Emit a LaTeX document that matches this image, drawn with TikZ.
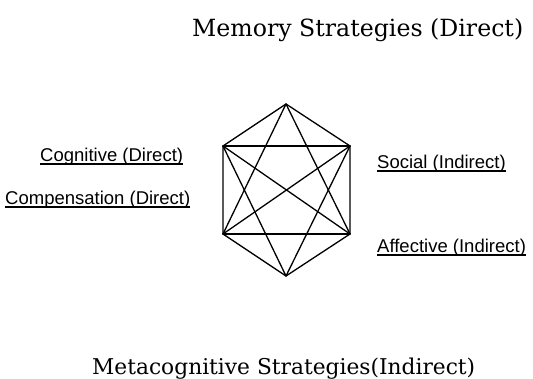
\documentclass[tikz,border=0pt]{standalone}
\usepackage{fontspec}
\setmainfont{Liberation Sans}
\newfontfamily\titlefont{DejaVu Serif}
\newfontfamily\labelfont{Liberation Sans}
\begin{document}
\begin{tikzpicture}[x=1pt,y=-1pt,
  edge/.style={line width=1.3pt,line join=round,line cap=round},
  uline/.style={line width=1.1pt},
  title/.style={inner sep=0pt,anchor=base west},
  lab/.style={inner sep=0pt,anchor=base west,font=\labelfont\fontsize{18.5}{20}\selectfont}]
\fill[white] (0,0) rectangle (533,379);
\useasboundingbox (0,0) rectangle (533,379);
% titles
\node[title] (mem) at (192,37) {\resizebox{331pt}{!}{\titlefont Memory Strategies (Direct)}};
\node[title] (meta) at (92,375) {\resizebox{383pt}{!}{\titlefont Metacognitive Strategies(Indirect)}};
% labels
\node[lab] (cog) at (40,162) {Cognitive (Direct)};
\node[lab] (comp) at (5,205) {Compensation (Direct)};
\node[lab] (soc) at (377,169) {Social (Indirect)};
\node[lab] (aff) at (377,253) {Affective (Indirect)};
\foreach \n in {cog,comp,soc,aff}
  \draw[uline] ([yshift=-2pt]\n.base west) -- ([yshift=-2pt]\n.base east);
% hexagon vertices
\coordinate (T) at (286,104);
\coordinate (UL) at (223,146);
\coordinate (UR) at (350,146);
\coordinate (LL) at (223,234);
\coordinate (LR) at (350,234);
\coordinate (B) at (286,276);
% hexagon outline
\draw[edge] (T) -- (UR) -- (LR) -- (B) -- (LL) -- (UL) -- cycle;
% horizontals
\draw[edge] (UL) -- (UR);
\draw[edge] (LL) -- (LR);
% star triangles
\draw[edge] (T) -- (LL);
\draw[edge] (T) -- (LR);
\draw[edge] (B) -- (UL);
\draw[edge] (B) -- (UR);
% diagonals
\draw[edge] (UL) -- (LR);
\draw[edge] (UR) -- (LL);
\end{tikzpicture}
\end{document}
